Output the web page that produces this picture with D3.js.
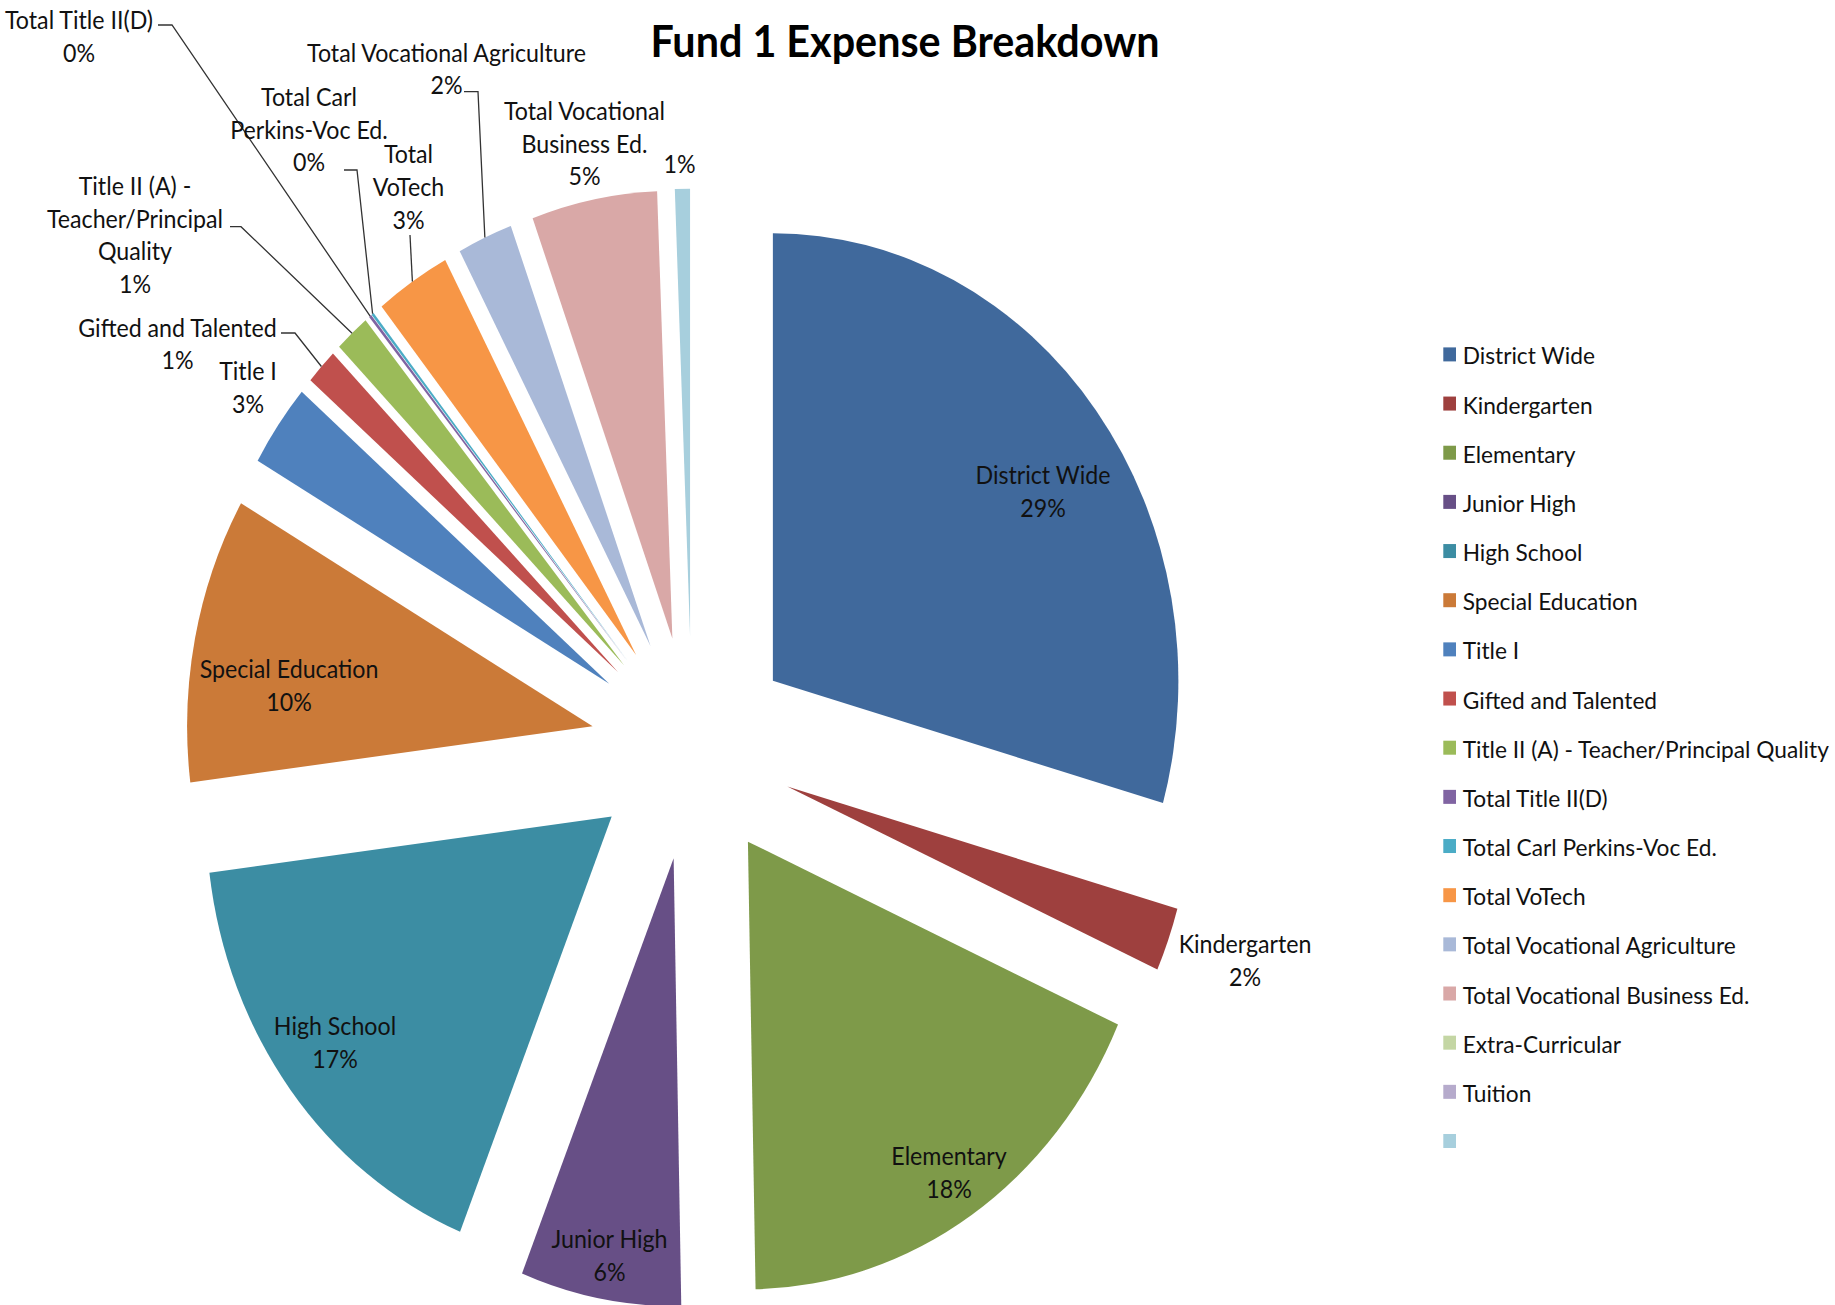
<!DOCTYPE html>
<html>
<head>
<meta charset="utf-8">
<script src="https://cdn.jsdelivr.net/npm/d3@7"></script>
<style>
  body { margin: 0; background: #fff; }
  svg text { font-family: Lato, "Open Sans", sans-serif; fill: #111; }
</style>
</head>
<body>
<div id="chart"></div>
<script>
const chartTitle = "Fund 1 Expense Breakdown";

// slices in the order Excel draws them, clockwise from 12 o'clock
const categories = [
  "District Wide", "Kindergarten", "Elementary", "Junior High", "High School",
  "Special Education", "Title I", "Gifted and Talented",
  "Title II (A) - Teacher/Principal Quality", "Total Title II(D)",
  "Total Carl Perkins-Voc Ed.", "Total VoTech", "Total Vocational Agriculture",
  "Total Vocational Business Ed.", "Extra-Curricular", "Tuition", ""
];

// share of the fund, in percent
const shares = [29.4, 2.3, 18.0, 6.4, 16.9, 10.3, 3.0, 1.3, 1.4, 0.1, 0.1, 3.0, 2.2, 5.0, 0, 0, 0.6];

const colors = [
  "#40699c", "#9e403e", "#7e9a49", "#674f86", "#3c8da3", "#cb7a38",
  "#4f81bd", "#c0504d", "#9bbb59", "#8064a2", "#4bacc6", "#f79646",
  "#a9b9d8", "#d9a8a7", "#c4d6a4", "#b6abcc", "#a7cfdd"
];

const width = 1835;
const height = 1305;

// the picture is stretched vertically
const squash = 1.104;
const textSquash = 1.05;
const cx = 692, cy = 748.3, r = 405.5, explode = 0.25;
const lineH = 32.7;
const fontSize = 23.2;
const legendFontSize = 22.7;

// where each data label sits: centre x, first baseline, wrap width, leader hook
const labelSpots = {
  "District Wide": { x: 1043, y: 484 },
  "Kindergarten": { x: 1245, y: 953 },
  "Elementary": { x: 949, y: 1165 },
  "Junior High": { x: 609.5, y: 1248 },
  "High School": { x: 335, y: 1035 },
  "Special Education": { x: 289, y: 678 },
  "Title I": { x: 248, y: 380 },
  "Gifted and Talented": { x: 177.5, y: 336.7, hook: [281, 333], tick: 14 },
  "Title II (A) - Teacher/Principal Quality": { x: 135, y: 195, wrap: 192, hook: [230, 226.7], tick: 11 },
  "Total Title II(D)": { x: 79, y: 29.3, hook: [158, 25], tick: 14 },
  "Total Carl Perkins-Voc Ed.": { x: 309, y: 106, wrap: 172, hook: [344, 170], tick: 13 },
  "Total VoTech": { x: 408.5, y: 163.3, wrap: 95, hook: [410, 235], tick: 0 },
  "Total Vocational Agriculture": { x: 446.5, y: 61.7, hook: [464, 91.7], tick: 14 },
  "Total Vocational Business Ed.": { x: 584.5, y: 120, wrap: 182 },
  "": { x: 679.5, y: 173.3 }
};

const data = categories.map((name, i) => ({ name, share: shares[i] }));
const total = d3.sum(shares);
const color = d3.scaleOrdinal(categories, colors);

const svg = d3.select("#chart")
  .append("svg")
  .attr("width", width)
  .attr("height", height)
  .attr("viewBox", [0, 0, width, height]);

// title
svg.append("text")
  .attr("transform", `translate(905,57.3) scale(1,1.07)`)
  .attr("text-anchor", "middle")
  .attr("font-size", 41.3)
  .attr("font-weight", "bold")
  .style("fill", "#000")
  .text(chartTitle);

// pie
const pie = d3.pie().sort(null).value((d) => d.share);
const arcs = pie(data);
const arc = d3.arc().innerRadius(0).outerRadius(r);
const rim = d3.arc().innerRadius(r).outerRadius(r);
const push = d3.arc().innerRadius(r * explode).outerRadius(r * explode);

const g = svg.append("g")
  .attr("transform", `translate(${cx},${cy}) scale(1,${squash})`);

g.selectAll("path")
  .data(arcs.filter((a) => a.value > 0))
  .join("path")
  .attr("transform", (a) => `translate(${push.centroid(a)})`)
  .attr("fill", (a) => color(a.data.name))
  .attr("d", arc);

// point on the outer rim, middle of the slice, in page coordinates
function rimPoint(a) {
  const [ox, oy] = push.centroid(a);
  const [rx, ry] = rim.centroid(a);
  return [cx + ox + rx, cy + (oy + ry) * squash];
}

// leader lines
const leaders = svg.append("g")
  .attr("fill", "none")
  .attr("stroke", "#333")
  .attr("stroke-width", 1.3);

arcs.forEach((a) => {
  const spot = labelSpots[a.data.name];
  if (!spot || !spot.hook) return;
  const [hx, hy] = spot.hook;
  leaders.append("path")
    .attr("d", d3.line()([[hx, hy], [hx + spot.tick, hy], rimPoint(a)]));
});

// data labels
const labels = svg.append("g").attr("font-size", fontSize).attr("text-anchor", "middle");

arcs.forEach((a) => {
  const name = a.data.name;
  const spot = labelSpots[name];
  if (!spot) return;
  const pct = Math.round((a.data.share / total) * 100) + "%";

  const t = labels.append("text")
    .attr("transform", `translate(${spot.x},${spot.y}) scale(1,${textSquash})`);

  // greedy wrap inside the label width Excel gave it
  const lines = [];
  if (name) {
    const probe = t.append("tspan");
    let line = [];
    name.split(" ").forEach((w) => {
      line.push(w);
      probe.text(line.join(" "));
      if (spot.wrap && probe.node().getComputedTextLength() > spot.wrap && line.length > 1) {
        line.pop();
        lines.push(line.join(" "));
        line = [w];
      }
    });
    lines.push(line.join(" "));
    probe.remove();
  }
  lines.push(pct);

  t.selectAll("tspan")
    .data(lines)
    .join("tspan")
    .attr("x", 0)
    .attr("dy", (d, i) => (i === 0 ? 0 : lineH / textSquash))
    .text((d) => d);
});

// legend
const ly = d3.scalePoint().domain(categories).range([354.4, 1141]);
const legend = svg.append("g").attr("font-size", legendFontSize);

const item = legend.selectAll("g")
  .data(categories)
  .join("g")
  .attr("transform", (d) => `translate(1443.3,${ly(d)})`);

item.append("rect")
  .attr("x", 0)
  .attr("y", -7)
  .attr("width", 12.7)
  .attr("height", 14)
  .attr("fill", (d) => color(d));

item.append("text")
  .attr("transform", `translate(19.4,10) scale(1,${textSquash})`)
  .text((d) => d);
</script>
</body>
</html>
